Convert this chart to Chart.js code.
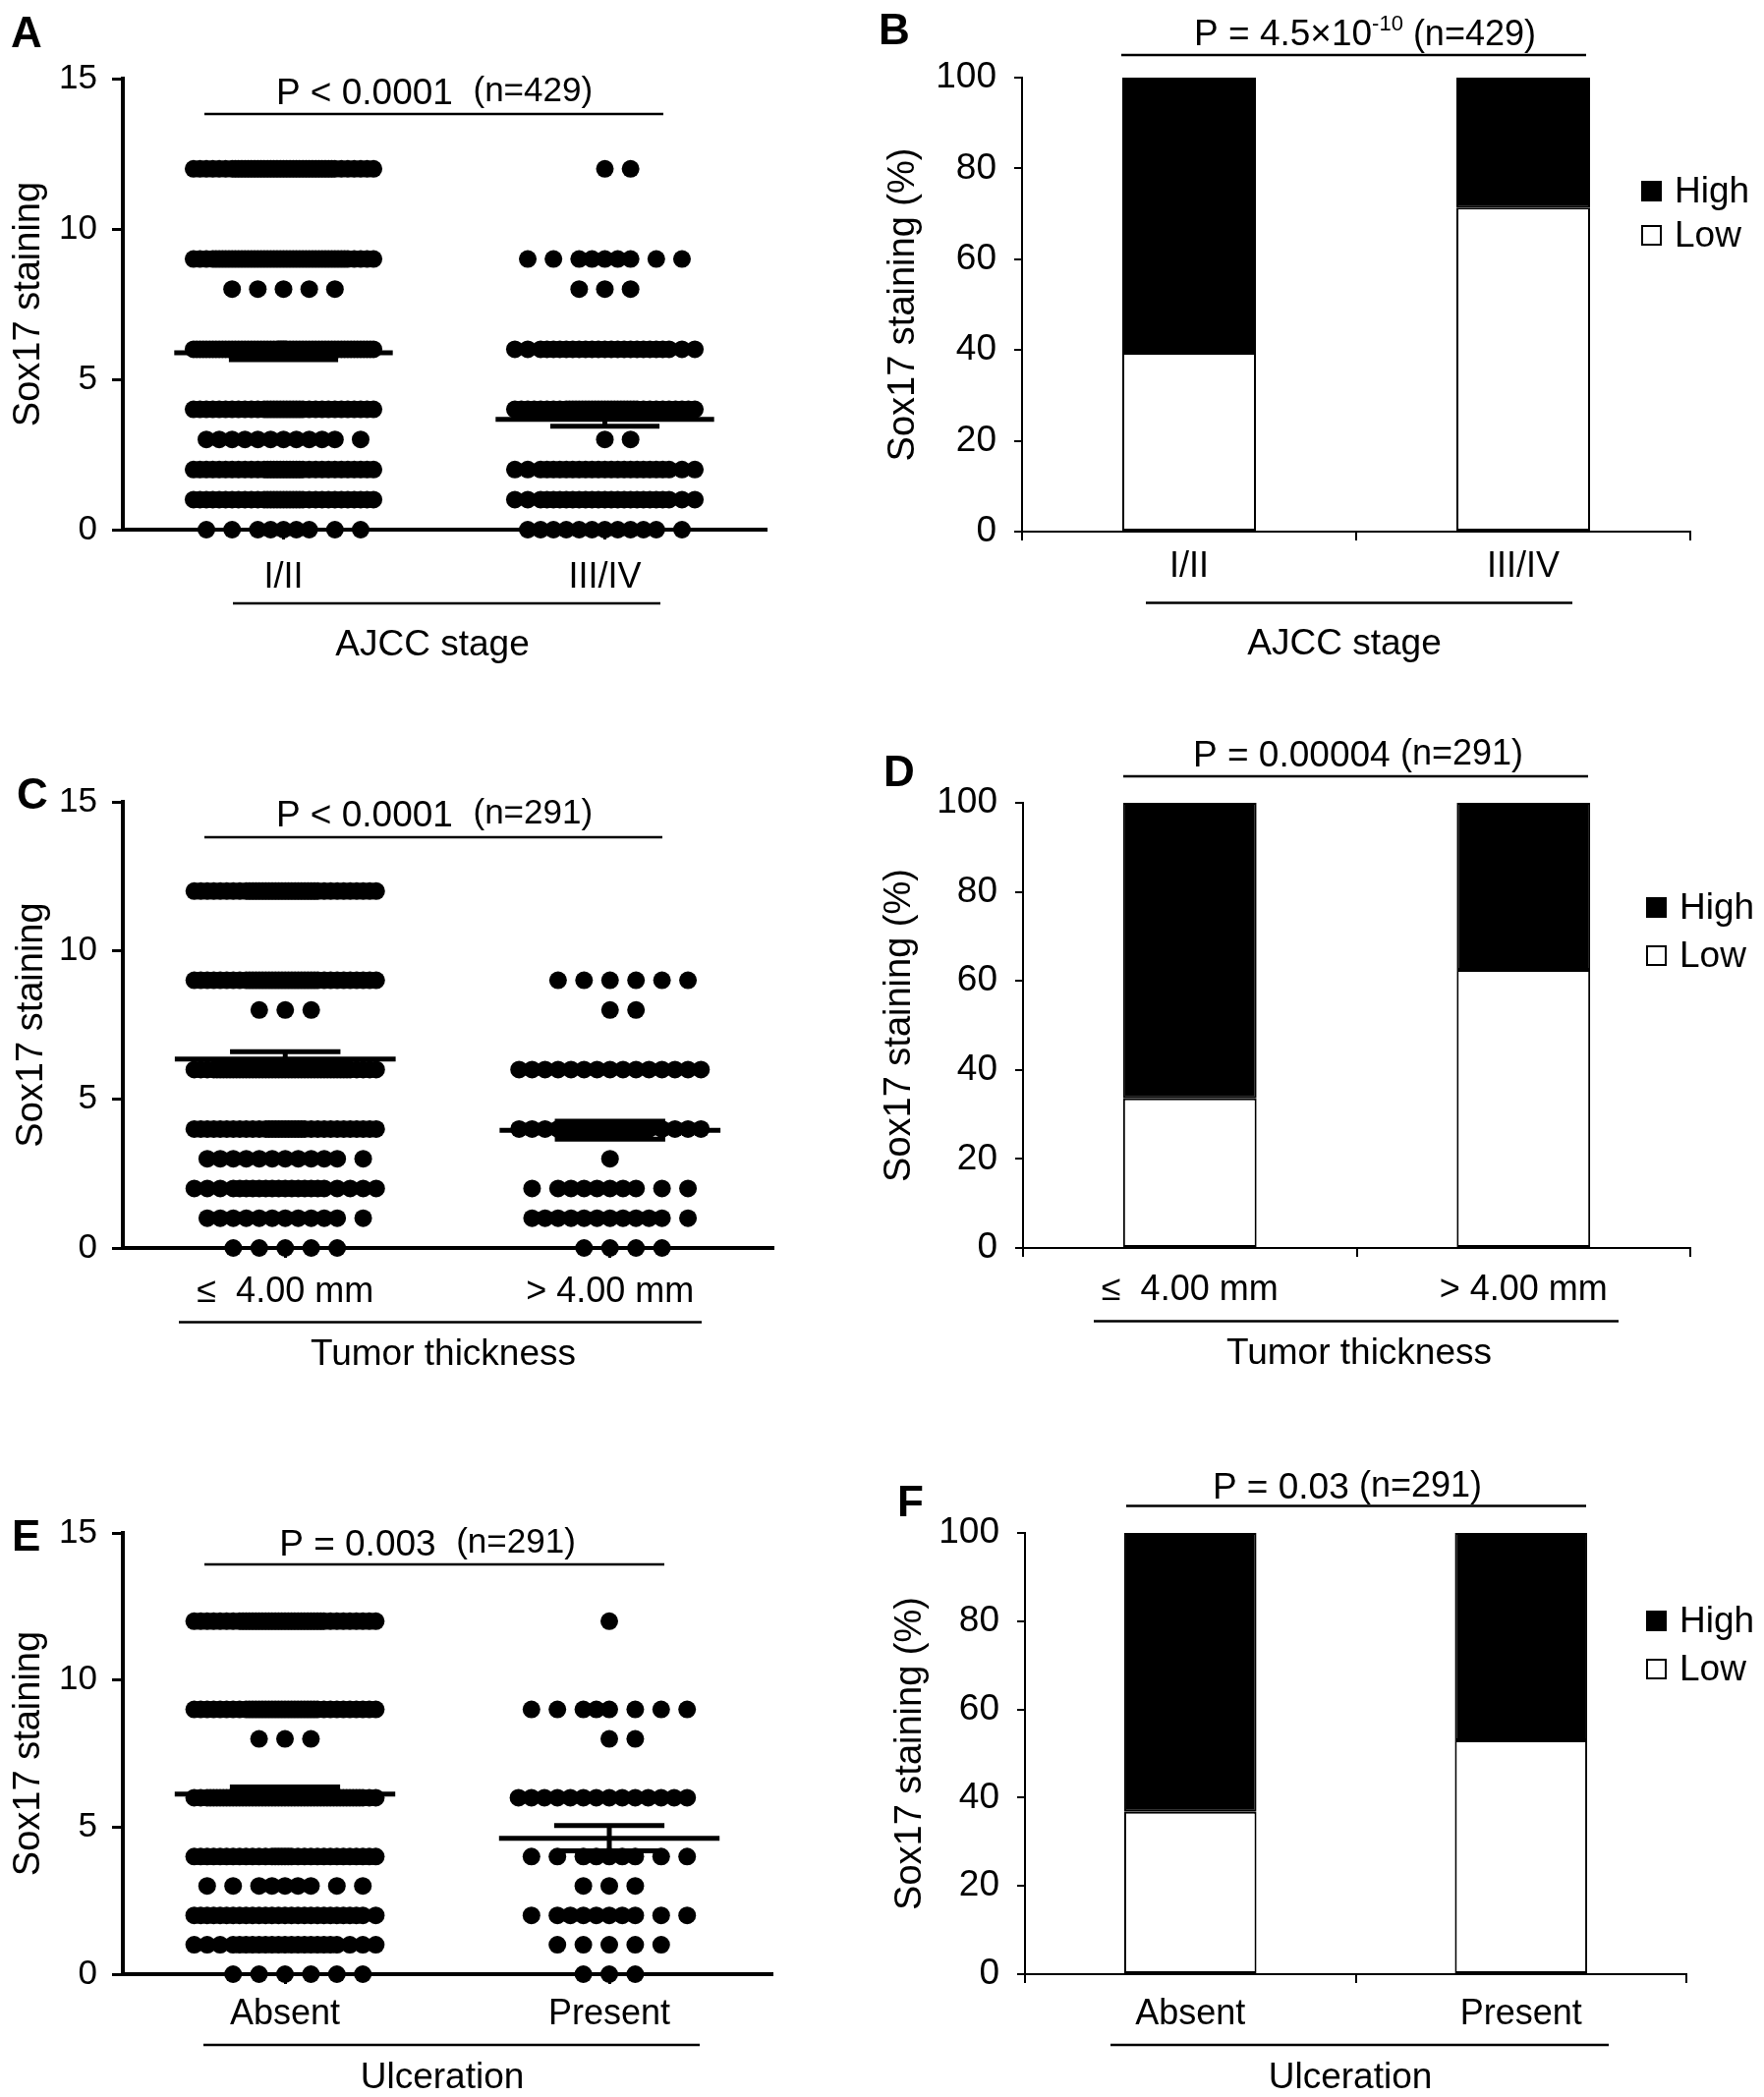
<!DOCTYPE html>
<html><head><meta charset="utf-8">
<script src="https://cdn.jsdelivr.net/npm/chart.js@4.4.1/dist/chart.umd.min.js"></script>
<style>
html,body{margin:0;padding:0;background:#fff;}
body{width:1795px;height:2134px;position:relative;overflow:hidden;}
canvas{position:absolute;}
</style></head><body>
<canvas id="cA"></canvas><canvas id="cB"></canvas>
<canvas id="cC"></canvas><canvas id="cD"></canvas>
<canvas id="cE"></canvas><canvas id="cF"></canvas>
<script>
// ================= DATA =================
const scoreLevels = [0, 1, 2, 3, 4, 6, 8, 9, 12];
const stageCats = ['I/II', 'III/IV'];
const thickCats = ['\u2264  4.00 mm', '> 4.00 mm'];
const ulcerCats = ['Absent', 'Present'];
const yTicksDot = [0, 5, 10, 15];
const yTicksPct = [0, 20, 40, 60, 80, 100];
// number of patients at each score level (order of scoreLevels)
const stageCountsEarly   = [9, 35, 35, 12, 35, 60, 5, 50, 45];
const stageCountsLate    = [12, 25, 25, 2, 40, 25, 3, 9, 2];
const thickCountsThin    = [5, 12, 22, 12, 35, 50, 3, 40, 40];
const thickCountsThick   = [4, 12, 10, 1, 22, 15, 2, 6, 0];
const ulcerCountsAbsent  = [6, 23, 28, 9, 32, 53, 3, 40, 42];
const ulcerCountsPresent = [3, 5, 10, 3, 9, 14, 2, 8, 1];
// mean and SEM
const stageMean = [5.88, 3.67], stageSem = [0.23, 0.23];
const thickMean = [6.35, 3.96], thickSem = [0.25, 0.30];
const ulcerMean = [6.12, 4.62], ulcerSem = [0.24, 0.43];
// percentage of low / high staining
const stageLowPct = [39.4, 71.4], stageHighPct = [60.6, 28.6];
const thickLowPct = [33.6, 62.5], thickHighPct = [66.4, 37.5];
const ulcerLowPct = [36.8, 53.0], ulcerHighPct = [63.2, 47.0];
const seriesNames = ['Low', 'High'];

// ================= STYLE / LAYOUT =================
const FF = '"Liberation Sans", Arial, Helvetica, sans-serif';
Chart.defaults.font.family = FF;
Chart.defaults.color = '#000';
const DOT_STEP = 0.08;   // spacing between dot slots (x units)

// slot order for dots inside a row (GraphPad-like filling from centre)
const SLOTS = (function () {
  const s = [0, 1, -1, 2, -2, 3, -3];
  for (let L = 1; L <= 5; L++) {
    const step = 1 / Math.pow(2, L);
    for (let m = 1; m * step <= 3.5 + 1e-9; m += 2) { s.push(-m * step, m * step); }
  }
  return s;
})();

function dotData(counts, gi) {
  const pts = [];
  scoreLevels.forEach((lv, k) => {
    SLOTS.slice(0, counts[k]).forEach(sl => pts.push({ x: gi + sl * DOT_STEP, y: lv }));
  });
  return pts;
}

const decor = {
  id: 'decor',
  afterDraw(chart, args, o) {
    if (!o || !o.letter) return;
    const ctx = chart.ctx, ox = o.ox, oy = o.oy;
    ctx.save();
    ctx.fillStyle = '#000'; ctx.strokeStyle = '#000';
    ctx.textBaseline = 'alphabetic';
    // panel letter
    ctx.font = 'bold 44px ' + FF; ctx.textAlign = 'left';
    ctx.fillText(o.letter, o.letterX - ox, o.letterY - oy);
    // p-value title (parts, with optional superscript)
    let tw = 0;
    o.title.forEach(p => { ctx.font = p.s + 'px ' + FF; tw += ctx.measureText(p.t).width; });
    let x = o.titleX - ox - tw / 2;
    o.title.forEach(p => {
      ctx.font = p.s + 'px ' + FF;
      ctx.fillText(p.t, x, o.titleY - oy + (p.dy || 0));
      x += ctx.measureText(p.t).width;
    });
    // lines
    ctx.lineWidth = 2.5;
    ctx.beginPath();
    ctx.moveTo(o.tLine[0] - ox, o.tLine[2] - oy); ctx.lineTo(o.tLine[1] - ox, o.tLine[2] - oy);
    ctx.moveTo(o.uLine[0] - ox, o.uLine[2] - oy); ctx.lineTo(o.uLine[1] - ox, o.uLine[2] - oy);
    ctx.stroke();
    // group title
    ctx.font = o.groupSize + 'px ' + FF; ctx.textAlign = 'center';
    ctx.fillText(o.group, o.groupX - ox, o.groupY - oy);
    // legend (bar panels)
    if (o.legend) {
      const L = o.legend;
      const ds = chart.data.datasets;
      const items = [ds[1], ds[0]];
      items.forEach((d, i) => {
        const top = L.tops[i] - oy, sx = L.x - ox;
        ctx.fillStyle = d.backgroundColor;
        ctx.fillRect(sx, top, L.size, L.size);
        ctx.lineWidth = 2; ctx.strokeStyle = '#000';
        ctx.strokeRect(sx + 1, top + 1, L.size - 2, L.size - 2);
        ctx.fillStyle = '#000';
        ctx.font = L.font + 'px ' + FF; ctx.textAlign = 'left'; ctx.textBaseline = 'middle';
        ctx.fillText(d.label, L.textX - ox, top + L.size / 2 + 1);
      });
    }
    ctx.restore();
  }
};

function setupCanvas(id, box) {
  const c = document.getElementById(id);
  c.width = box.w; c.height = box.h;
  c.style.left = box.left + 'px'; c.style.top = box.top + 'px';
  c.style.width = box.w + 'px'; c.style.height = box.h + 'px';
  return c;
}

function dotChart(id, box, area, cats, counts, mean, sem, ax, dec) {
  const c = setupCanvas(id, box);
  const datasets = [];
  [0, 1].forEach(g => datasets.push({
    type: 'scatter', data: dotData(counts[g], g), pointRadius: 9, pointHoverRadius: 9,
    backgroundColor: '#000', borderWidth: 0, clip: false
  }));
  [0, 1].forEach(g => {
    const m = mean[g], e = sem[g];
    const seg = (x1, y1, x2, y2) => datasets.push({
      type: 'line', data: [{ x: x1, y: y1 }, { x: x2, y: y2 }], borderColor: '#000',
      borderWidth: 5, pointRadius: 0, clip: false, borderCapStyle: 'butt', tension: 0
    });
    seg(g - 0.34, m, g + 0.34, m);
    seg(g - 0.17, m + e, g + 0.17, m + e);
    seg(g - 0.17, m - e, g + 0.17, m - e);
    seg(g, m - e, g, m + e);
  });
  dec.ox = box.left; dec.oy = box.top;
  return new Chart(c, {
    type: 'scatter',
    data: { datasets },
    plugins: [decor],
    options: {
      responsive: false, animation: false, devicePixelRatio: 1,
      layout: { padding: { top: area.T - box.top, right: box.left + box.w - area.R, bottom: 0, left: 0 } },
      plugins: { legend: { display: false }, tooltip: { enabled: false }, decor: dec },
      scales: {
        x: {
          type: 'linear', min: -0.5, max: 1.5,
          afterBuildTicks: s => { s.ticks = cats.map((_, i) => ({ value: i })); },
          afterFit: s => { s.height = box.top + box.h - area.B; },
          ticks: { callback: v => cats[v], font: { size: 36 }, color: '#000', padding: ax.xpad, maxRotation: 0, autoSkip: false },
          grid: { drawOnChartArea: false, drawTicks: true, tickLength: 10, lineWidth: 3, color: '#000' },
          border: { display: true, width: 4, color: '#000' }
        },
        y: {
          type: 'linear', min: 0, max: 15,
          afterBuildTicks: s => { s.ticks = yTicksDot.map(v => ({ value: v })); },
          afterFit: s => { s.width = area.L - box.left; },
          ticks: { font: { size: 35 }, color: '#000', padding: 15 },
          grid: { drawOnChartArea: false, drawTicks: true, tickLength: 11, lineWidth: 3, color: '#000' },
          border: { display: true, width: 4, color: '#000' },
          title: { display: true, text: 'Sox17 staining', font: { size: 38 }, color: '#000', padding: { top: ax.tpad, bottom: 0 } }
        }
      }
    }
  });
}

function barChart(id, box, area, cats, low, high, ax, dec) {
  const c = setupCanvas(id, box);
  dec.ox = box.left; dec.oy = box.top;
  const common = { borderColor: '#000', borderWidth: 2, borderSkipped: false, barPercentage: 0.4, categoryPercentage: 1, stack: 's' };
  return new Chart(c, {
    type: 'bar',
    data: {
      labels: cats,
      datasets: [
        Object.assign({ label: seriesNames[0], data: low, backgroundColor: '#ffffff' }, common),
        Object.assign({ label: seriesNames[1], data: high, backgroundColor: '#000000' }, common)
      ]
    },
    plugins: [decor],
    options: {
      responsive: false, animation: false, devicePixelRatio: 1,
      layout: { padding: { top: area.T - box.top, right: box.left + box.w - area.R, bottom: 0, left: 0 } },
      plugins: { legend: { display: false }, tooltip: { enabled: false }, decor: dec },
      scales: {
        x: {
          stacked: true, offset: true,
          afterFit: s => { s.height = box.top + box.h - area.B; },
          ticks: { font: { size: 36 }, color: '#000', padding: ax.xpad, maxRotation: 0, autoSkip: false },
          grid: { offset: true, drawOnChartArea: false, drawTicks: true, tickLength: 9, lineWidth: 2, color: '#000' },
          border: { display: true, width: 2, color: '#000' }
        },
        y: {
          stacked: true, min: 0, max: 100,
          afterBuildTicks: s => { s.ticks = yTicksPct.map(v => ({ value: v })); },
          afterFit: s => { s.width = area.L - box.left; },
          ticks: { font: { size: 37 }, color: '#000', padding: 18 },
          grid: { drawOnChartArea: false, drawTicks: true, tickLength: 8, lineWidth: 2, color: '#000' },
          border: { display: true, width: 2, color: '#000' },
          title: { display: true, text: 'Sox17 staining (%)', font: { size: 38 }, color: '#000', padding: { top: ax.tpad, bottom: 0 } }
        }
      }
    }
  });
}

// ---------- Panel A ----------
dotChart('cA', { left: 0, top: 0, w: 800, h: 700 }, { L: 125, T: 80, R: 779, B: 539 },
  stageCats, [stageCountsEarly, stageCountsLate], stageMean, stageSem, { xpad: 17, tpad: 7 },
  { letter: 'A', letterX: 11, letterY: 48,
    title: [{ t: 'P < 0.0001  ', s: 37 }, { t: '(n=429)', s: 35, dy: -3 }], titleX: 442, titleY: 106,
    tLine: [208, 675, 116], uLine: [237, 672, 614],
    group: 'AJCC stage', groupX: 440, groupY: 667, groupSize: 37 });

// ---------- Panel C ----------
dotChart('cC', { left: 0, top: 700, w: 800, h: 730 }, { L: 125, T: 816, R: 786, B: 1270 },
  thickCats, [thickCountsThin, thickCountsThick], thickMean, thickSem, { xpad: 13, tpad: 10 },
  { letter: 'C', letterX: 17, letterY: 823,
    title: [{ t: 'P < 0.0001  ', s: 37 }, { t: '(n=291)', s: 35, dy: -3 }], titleX: 442, titleY: 841,
    tLine: [208, 674, 852], uLine: [182, 714, 1345.5],
    group: 'Tumor thickness', groupX: 451, groupY: 1389, groupSize: 37 });

// ---------- Panel E ----------
dotChart('cE', { left: 0, top: 1430, w: 800, h: 704 }, { L: 125, T: 1560, R: 785, B: 2009 },
  ulcerCats, [ulcerCountsAbsent, ulcerCountsPresent], ulcerMean, ulcerSem, { xpad: 9, tpad: 7 },
  { letter: 'E', letterX: 12, letterY: 1578,
    title: [{ t: 'P = 0.003  ', s: 37 }, { t: '(n=291)', s: 35, dy: -3 }], titleX: 435, titleY: 1583,
    tLine: [208, 676, 1592], uLine: [207, 712, 2081],
    group: 'Ulceration', groupX: 450, groupY: 2125, groupSize: 37 });

// ---------- Panel B ----------
barChart('cB', { left: 880, top: 0, w: 915, h: 700 }, { L: 1040, T: 79, R: 1720, B: 541 },
  stageCats, stageLowPct, stageHighPct, { xpad: 5, tpad: 17 },
  { letter: 'B', letterX: 894, letterY: 45,
    title: [{ t: 'P = 4.5\u00d710', s: 37 }, { t: '-10', s: 22, dy: -15 }, { t: ' (n=429)', s: 36 }],
    titleX: 1389, titleY: 46,
    tLine: [1141, 1614, 56], uLine: [1166, 1600, 613.5],
    group: 'AJCC stage', groupX: 1368, groupY: 666, groupSize: 37,
    legend: { x: 1670, size: 21, tops: [184, 229], textX: 1704, font: 37 } });

// ---------- Panel D ----------
barChart('cD', { left: 880, top: 700, w: 915, h: 730 }, { L: 1041, T: 817, R: 1720, B: 1270 },
  thickCats, thickLowPct, thickHighPct, { xpad: 12, tpad: 13 },
  { letter: 'D', letterX: 899, letterY: 800,
    title: [{ t: 'P = 0.00004 ', s: 37 }, { t: '(n=291)', s: 36, dy: -2 }], titleX: 1382, titleY: 780,
    tLine: [1143, 1616, 790], uLine: [1113, 1647, 1344.6],
    group: 'Tumor thickness', groupX: 1383, groupY: 1388, groupSize: 37,
    legend: { x: 1675, size: 21, tops: [913, 962], textX: 1709, font: 37 } });

// ---------- Panel F ----------
barChart('cF', { left: 880, top: 1430, w: 915, h: 704 }, { L: 1043, T: 1560, R: 1716, B: 2009 },
  ulcerCats, ulcerLowPct, ulcerHighPct, { xpad: 10, tpad: 24 },
  { letter: 'F', letterX: 913, letterY: 1543,
    title: [{ t: 'P = 0.03 ', s: 37 }, { t: '(n=291)', s: 36, dy: -2 }], titleX: 1371, titleY: 1525,
    tLine: [1146, 1614, 1532.6], uLine: [1130, 1637, 2081],
    group: 'Ulceration', groupX: 1374, groupY: 2125, groupSize: 37,
    legend: { x: 1675, size: 21, tops: [1639, 1688], textX: 1709, font: 37 } });
</script>
</body></html>
